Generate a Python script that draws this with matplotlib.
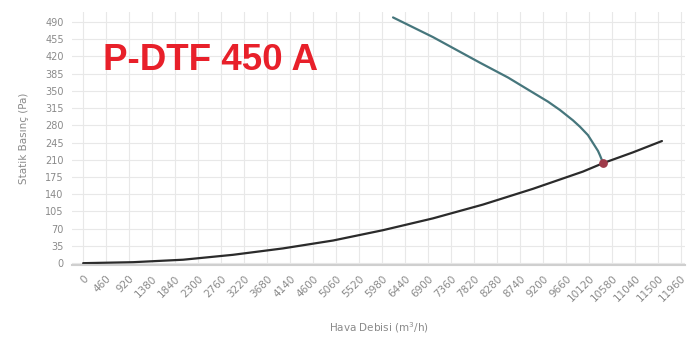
import numpy as np
import matplotlib.pyplot as plt

# fan curve
fan_flow = [6200, 7000, 7940, 8500, 8940, 9300, 9540, 9800, 9940, 10100, 10200, 10300, 10340, 10400]
fan_pa = [499, 459, 407, 377, 350, 328, 311, 290, 277, 260, 244, 228, 219, 204]

# system curve
sys_flow = [0, 1000, 2000, 3000, 4000, 5000, 6000, 7000, 8000, 9000, 10000, 10400, 11000, 11580]
sys_pa = [0, 2, 7, 17, 30, 46, 67, 91, 119, 151, 186, 203, 225, 248]

op_point = (10400, 203)

x_ticks = list(range(0, 11961, 460))
y_ticks = list(range(0, 491, 35))

title = "P-DTF 450 A"
x_label = "Hava Debisi (m$^3$/h)"
y_label = "Statik Basınç (Pa)"

fig = plt.figure(figsize=(6.87, 3.43), dpi=100)
ax = fig.add_axes([0.105, 0.227, 0.892, 0.738])

ax.set_xlim(-220, 12040)
ax.set_ylim(-4, 510)
ax.set_xticks(x_ticks)
ax.set_yticks(y_ticks)
ax.set_xticklabels([str(v) for v in x_ticks], rotation=45, ha="right",
                   rotation_mode="anchor", fontsize=7.5, color="#8a8a8a")
ax.set_yticklabels([str(v) for v in y_ticks], fontsize=7, color="#8a8a8a")
ax.tick_params(axis="x", length=0, pad=6)
ax.tick_params(axis="y", length=0, pad=6)
ax.grid(True, color="#e8e8e8", linewidth=0.8)
ax.set_axisbelow(True)
for s in ["top", "right", "left"]:
    ax.spines[s].set_visible(False)
ax.spines["bottom"].set_color("#cfcfcf")
ax.spines["bottom"].set_linewidth(1.5)

ax.plot(sys_flow, sys_pa, color="#2b2b2b", linewidth=1.6, solid_capstyle="round")
ax.plot(fan_flow, fan_pa, color="#46767c", linewidth=1.6, solid_capstyle="round")
ax.scatter([op_point[0]], [op_point[1]], s=28, color="#9e3b4a", zorder=5)

ax.set_xlabel(x_label, fontsize=7.5, color="#8a8a8a", labelpad=12)
ax.set_ylabel(y_label, fontsize=7.5, color="#8a8a8a", labelpad=12)

fig.text(0.150, 0.796, title, color="#e8202a", fontsize=26.5, fontweight="bold",
         family="Liberation Sans", va="baseline")

fig.savefig("out.png", dpi=100)
